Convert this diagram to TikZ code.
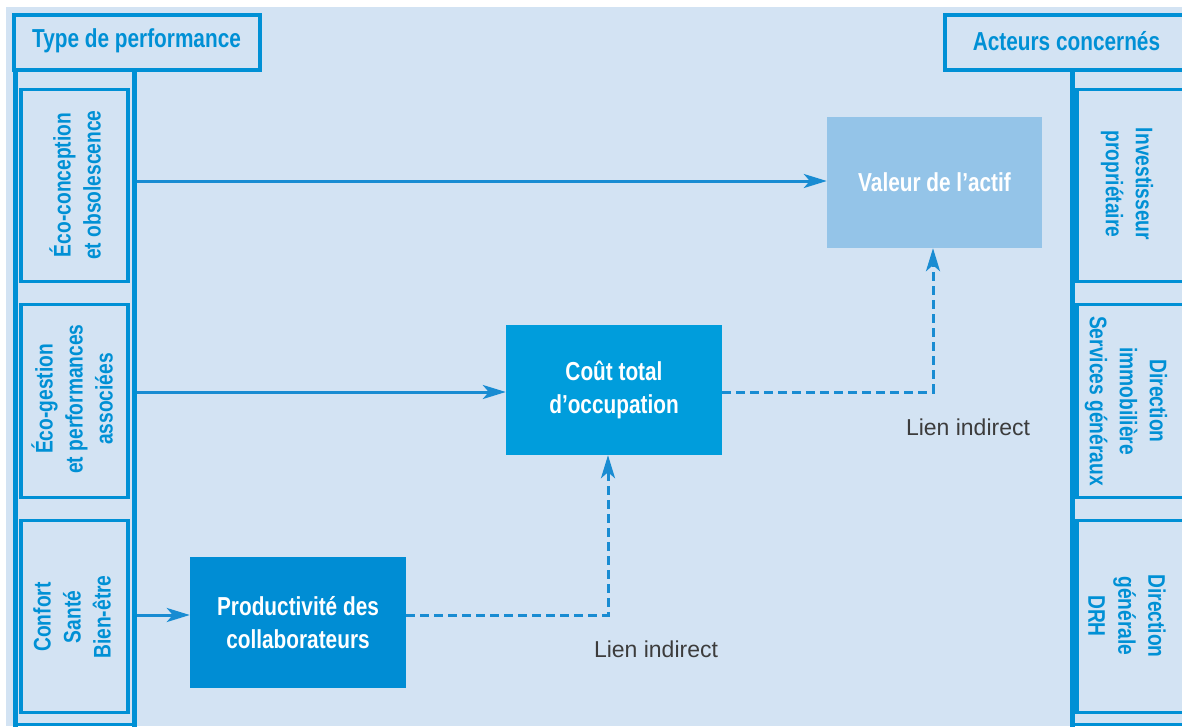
\documentclass[tikz,border=0pt]{standalone}
\usepackage{fontspec}
\setmainfont{Liberation Sans}
\newfontfamily\condf[FakeStretch=0.8]{Liberation Sans}
\usetikzlibrary{arrows.meta}
\definecolor{bgc}{RGB}{211,227,243}
\definecolor{framec}{RGB}{0,144,213}
\definecolor{valc}{RGB}{148,196,232}
\definecolor{coutc}{RGB}{0,157,220}
\definecolor{prodc}{RGB}{0,141,212}
\definecolor{arrc}{RGB}{25,140,210}
\definecolor{grayt}{RGB}{60,60,60}
\begin{document}
\begin{tikzpicture}[x=1pt,y=-1pt,
  hdr/.style={draw=framec,line width=4pt,inner sep=0pt},
  hdrtxt/.style={font=\condf\bfseries\fontsize{26}{30}\selectfont,text=framec,inner sep=0pt},
  cell/.style={draw=framec,line width=3.5pt,inner sep=0pt},
  celltxt/.style={font=\condf\bfseries\fontsize{24}{30}\selectfont,text=framec,align=center,inner sep=0pt},
  colline/.style={draw=framec,line width=4.5pt},
  box/.style={inner sep=0pt,font=\condf\bfseries\fontsize{26}{33}\selectfont,text=white,align=center},
  arr/.style={draw=arrc,line width=3pt,-{Stealth[length=23pt,width=14pt,inset=6pt]}},
  darr/.style={arr,dash pattern=on 9pt off 5pt},
  lien/.style={font=\fontsize{23}{27}\selectfont,text=grayt,inner sep=0pt}
]
\useasboundingbox (0,0) rectangle (1182,726);
\clip (0,0) rectangle (1182,726);
\fill[white] (0,0) rectangle (1182,726);
\fill[bgc] (6,7) rectangle (1182,726);

% column lines
\draw[colline,line width=5pt] (15.5,70) -- (15.5,730);
\draw[colline] (134.5,70) -- (134.5,730);
\draw[colline] (1072.5,70) -- (1072.5,730);
\draw[colline,line width=3pt] (13,724.5) -- (137,724.5);
\draw[colline,line width=3pt] (1070,724.5) -- (1190,724.5);

% headers
\node[hdr,minimum width=246pt,minimum height=55pt] (hdrL) at (137,42.5) {};
\node[hdrtxt] (hdrLt) at (136.5,41) {Type de performance};
\node[hdr,minimum width=245pt,minimum height=55pt] (hdrR) at (1067.5,42.5) {};
\node[hdrtxt] (hdrRt) at (1066.5,41) {Acteurs concernés};

% left cells
\node[cell,minimum width=107pt,minimum height=192pt] (lc1) at (74.5,185.5) {};
\node[cell,minimum width=107pt,minimum height=193pt] (lc2) at (74.5,401) {};
\node[cell,minimum width=107pt,minimum height=192pt] (lc3) at (74.5,616.5) {};
\node[celltxt,rotate=90] (lt1) at (75,185) {Éco-conception\\et obsolescence};
\node[celltxt,rotate=90] (lt2) at (72,399) {Éco-gestion\\et performances\\associées};
\node[celltxt,rotate=90] (lt3) at (72,617) {Confort\\Santé\\Bien-être};

% right cells
\node[cell,minimum width=113pt,minimum height=192pt] (rc1) at (1133.5,185.5) {};
\node[cell,minimum width=113pt,minimum height=193pt] (rc2) at (1133.5,401) {};
\node[cell,minimum width=113pt,minimum height=192pt] (rc3) at (1133.5,616.5) {};
\node[celltxt,rotate=-90] (rt1) at (1127,184) {Investisseur\\propriétaire};
\node[celltxt,rotate=-90] (rt2) at (1126,401) {Direction\\immobilière\\Services généraux};
\node[celltxt,rotate=-90] (rt3) at (1127,616) {Direction\\générale\\DRH};

% central boxes
\node[box,fill=valc,minimum width=215pt,minimum height=131pt] (val) at (934.5,182.5) {Valeur de l’actif};
\node[box,fill=coutc,minimum width=216pt,minimum height=130pt] (cout) at (614,390) {Coût total\\d’occupation};
\node[box,fill=prodc,minimum width=216pt,minimum height=131pt] (prod) at (298,622.5) {Productivité des\\collaborateurs};

% arrows
\coordinate (s1) at (137,181);
\coordinate (s2) at (137,392);
\coordinate (s3) at (137,615);
\coordinate (c1) at (608,0);
\coordinate (c2) at (933,0);
\draw[arr] (s1) -- (s1 -| val.west);
\draw[arr] (s2) -- (s2 -| cout.west);
\draw[arr] (s3) -- (s3 -| prod.west);
\draw[darr] (prod.east |- s3) -| (c1 |- cout.south);
\draw[darr] (cout.east |- s2) -| (c2 |- val.south);

\node[lien] (li1) at (968,427) {Lien indirect};
\node[lien] (li2) at (656,649) {Lien indirect};
\end{tikzpicture}
\end{document}
